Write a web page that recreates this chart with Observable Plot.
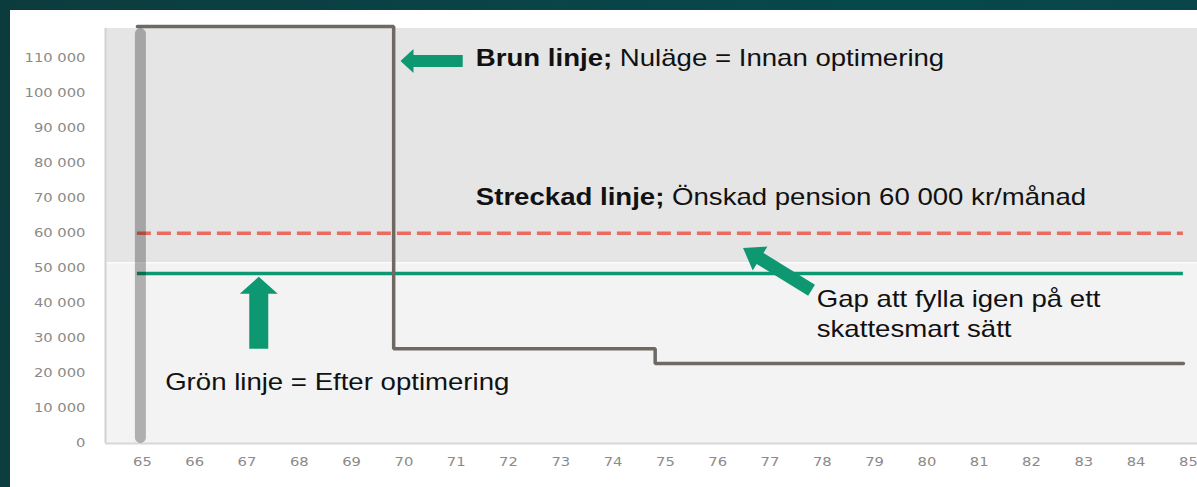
<!DOCTYPE html>
<html>
<head>
<meta charset="utf-8">
<script src="https://cdn.jsdelivr.net/npm/d3@7"></script>
<script src="https://cdn.jsdelivr.net/npm/@observablehq/plot@0.6"></script>
<style>
  html, body { margin: 0; padding: 0; }
  body {
    width: 1197px; height: 487px; overflow: hidden; position: relative;
    background: linear-gradient(100deg, #0c3b3d 0%, #0a4447 40%, #06484b 70%, #0a4548 100%);
  }
  #panel { position: absolute; left: 10px; top: 10px; width: 1187px; height: 477px; background: #ffffff; }
  #panel svg { display: block; }
</style>
</head>
<body>
<div id="panel"></div>
<script>
// ---- data ----
const ages = [65, 66, 67, 68, 69, 70, 71, 72, 73, 74, 75, 76, 77, 78, 79, 80, 81, 82, 83, 84, 85];
const yTicks = [0, 10000, 20000, 30000, 40000, 50000, 60000, 70000, 80000, 90000, 100000, 110000];

// Brun linje: nuläge (innan optimering), step function
const brownAges = [65, 69.9, 74.9, 85];
const brownValues = [119000, 27000, 22800, 22800];

// Grön linje: efter optimering
const greenValue = 48500;
// Streckad linje: önskad pension
const targetValue = 60000;
const lineStartAge = 65;
const lineEndAge = 85;

// background bands (value ranges)
const bandLow = [0, 51600];
const bandHigh = [51600, 118400];
const bandFill = ["#f3f3f3", "#e5e5e5"];

// start-of-pension marker bar
const barAge = [65];
const barFrom = [1600];
const barTo = [116800];

// annotation texts
const noteAges = [71.48, 71.48, 78.0, 78.0, 65.54];
const noteValues = [110000, 70300, 41200, 32700, 17500];
const noteBold = ["Brun linje;", "Streckad linje;", "", "", ""];
const noteText = [" Nuläge = Innan optimering", " Önskad pension 60 000 kr/månad", "Gap att fylla igen på ett", "skattesmart sätt", "Grön linje = Efter optimering"];

// annotation arrows (tip and tail in data units)
const arrowTipAge = [70.04, 67.33, 76.59];
const arrowTipValue = [109000, 47450, 55630];
const arrowTailAge = [71.23, 67.33, 77.90];
const arrowTailValue = [109000, 26900, 43600];

// ---- chart ----
const xDomain = [64.39, 85.27];
const yDomain = [0, 118400];
const fmt = d => d3.format(",")(d).replace(/,/g, " ");

const bands = bandLow.map((lo, i) => ({lo, hi: bandHigh[i], fill: bandFill[i]}));
const brown = brownAges.map((a, i) => ({age: a, value: brownValues[i]}));
const bar = barAge.map((a, i) => ({age: a, from: barFrom[i], to: barTo[i]}));
const notes = noteAges.map((a, i) => ({age: a, value: noteValues[i], bold: noteBold[i], text: noteText[i]}));
const arrows = arrowTipAge.map((a, i) => ({tipAge: a, tipValue: arrowTipValue[i], tailAge: arrowTailAge[i], tailValue: arrowTailValue[i]}));
const arrowStyle = [
  {shaft: 12, head: 24, headLen: 13},
  {shaft: 19, head: 38, headLen: 17},
  {shaft: 13, head: 28, headLen: 20}
];
const GREEN = "#0e9872";

function arrowMark(index, scales) {
  const g = d3.create("svg:g").attr("aria-label", "arrows");
  arrows.forEach((a, i) => {
    const st = arrowStyle[i];
    const tx = scales.x(a.tipAge), ty = scales.y(a.tipValue);
    const sx = scales.x(a.tailAge), sy = scales.y(a.tailValue);
    const L = Math.hypot(tx - sx, ty - sy);
    const ux = (tx - sx) / L, uy = (ty - sy) / L;
    const nx = -uy, ny = ux;
    const bx = tx - ux * st.headLen, by = ty - uy * st.headLen;
    const w = st.shaft / 2, h = st.head / 2;
    const pts = [
      [sx + nx * w, sy + ny * w], [bx + nx * w, by + ny * w], [bx + nx * h, by + ny * h],
      [tx, ty],
      [bx - nx * h, by - ny * h], [bx - nx * w, by - ny * w], [sx - nx * w, sy - ny * w]
    ];
    g.append("polygon").attr("points", pts.map(p => p.join(",")).join(" ")).attr("fill", GREEN);
  });
  return g.node();
}

function noteMark(index, scales) {
  const g = d3.create("svg:g").attr("aria-label", "notes").attr("text-anchor", "start");
  notes.forEach(n => {
    const t = g.append("text")
      .attr("transform", `translate(${scales.x(n.age)},${scales.y(n.value)}) scale(1.2,1)`)
      .attr("dy", "0.36em")
      .attr("text-anchor", "start")
      .attr("fill", "#111")
      .style("font-family", "'Liberation Sans', Arial, sans-serif")
      .style("font-size", "23px")
      .style("white-space", "pre");
    if (n.bold) t.append("tspan").attr("font-weight", "bold").text(n.bold);
    t.append("tspan").text(n.text);
  });
  return g.node();
}

const chart = Plot.plot({
  width: 1187,
  height: 477,
  marginLeft: 95,
  marginRight: 0,
  marginTop: 18,
  marginBottom: 44,
  style: {background: "transparent", fontFamily: "'DejaVu Sans', Verdana, sans-serif", fontSize: "12.3px", color: "#8c8a88", overflow: "visible"},
  x: {domain: xDomain, ticks: ages, tickFormat: d => String(d), tickSize: 0, tickPadding: 14, label: null},
  y: {domain: yDomain, ticks: yTicks, tickFormat: fmt, tickSize: 0, tickPadding: 20, label: null},
  marks: [
    Plot.rect(bands, {x1: () => xDomain[0], x2: () => xDomain[1], y1: "lo", y2: "hi", fill: "fill"}),
    Plot.ruleY([bandLow[1]], {stroke: "#fbfbfb", strokeWidth: 1.5}),
    Plot.ruleX([xDomain[0]], {y1: 0, y2: yDomain[1], stroke: "#d2d2d2", strokeWidth: 2}),
    Plot.ruleY([0], {stroke: "#d8d8d8", strokeWidth: 2}),
    Plot.ruleY([targetValue], {x1: lineStartAge, x2: lineEndAge, stroke: "#ec6b5e", strokeWidth: 3.5, strokeDasharray: "14,6"}),
    Plot.ruleY([greenValue], {x1: lineStartAge, x2: lineEndAge, stroke: GREEN, strokeWidth: 3.5}),
    Plot.line(brown, {x: "age", y: "value", curve: "step-after", stroke: "#6f6964", strokeWidth: 3.5, strokeLinejoin: "miter"}),
    Plot.ruleX(bar, {x: "age", y1: "from", y2: "to", stroke: "#000", strokeOpacity: 0.28, strokeWidth: 11, strokeLinecap: "round", dx: 3}),
    arrowMark,
    noteMark
  ]
});

// stretch axis tick labels horizontally to match the reference
d3.select(chart).selectAll("g[aria-label*='axis'] text").each(function () {
  const t = this.getAttribute("transform") || "";
  this.setAttribute("transform", (t + " scale(1.2,1)").trim());
});
// x labels sit slightly right of the data positions
d3.select(chart).selectAll("g[aria-label='x-axis tick label']").attr("transform", function () {
  const t = this.getAttribute("transform") || "";
  return t + " translate(5,0)";
});

document.getElementById("panel").append(chart);
</script>
</body>
</html>
